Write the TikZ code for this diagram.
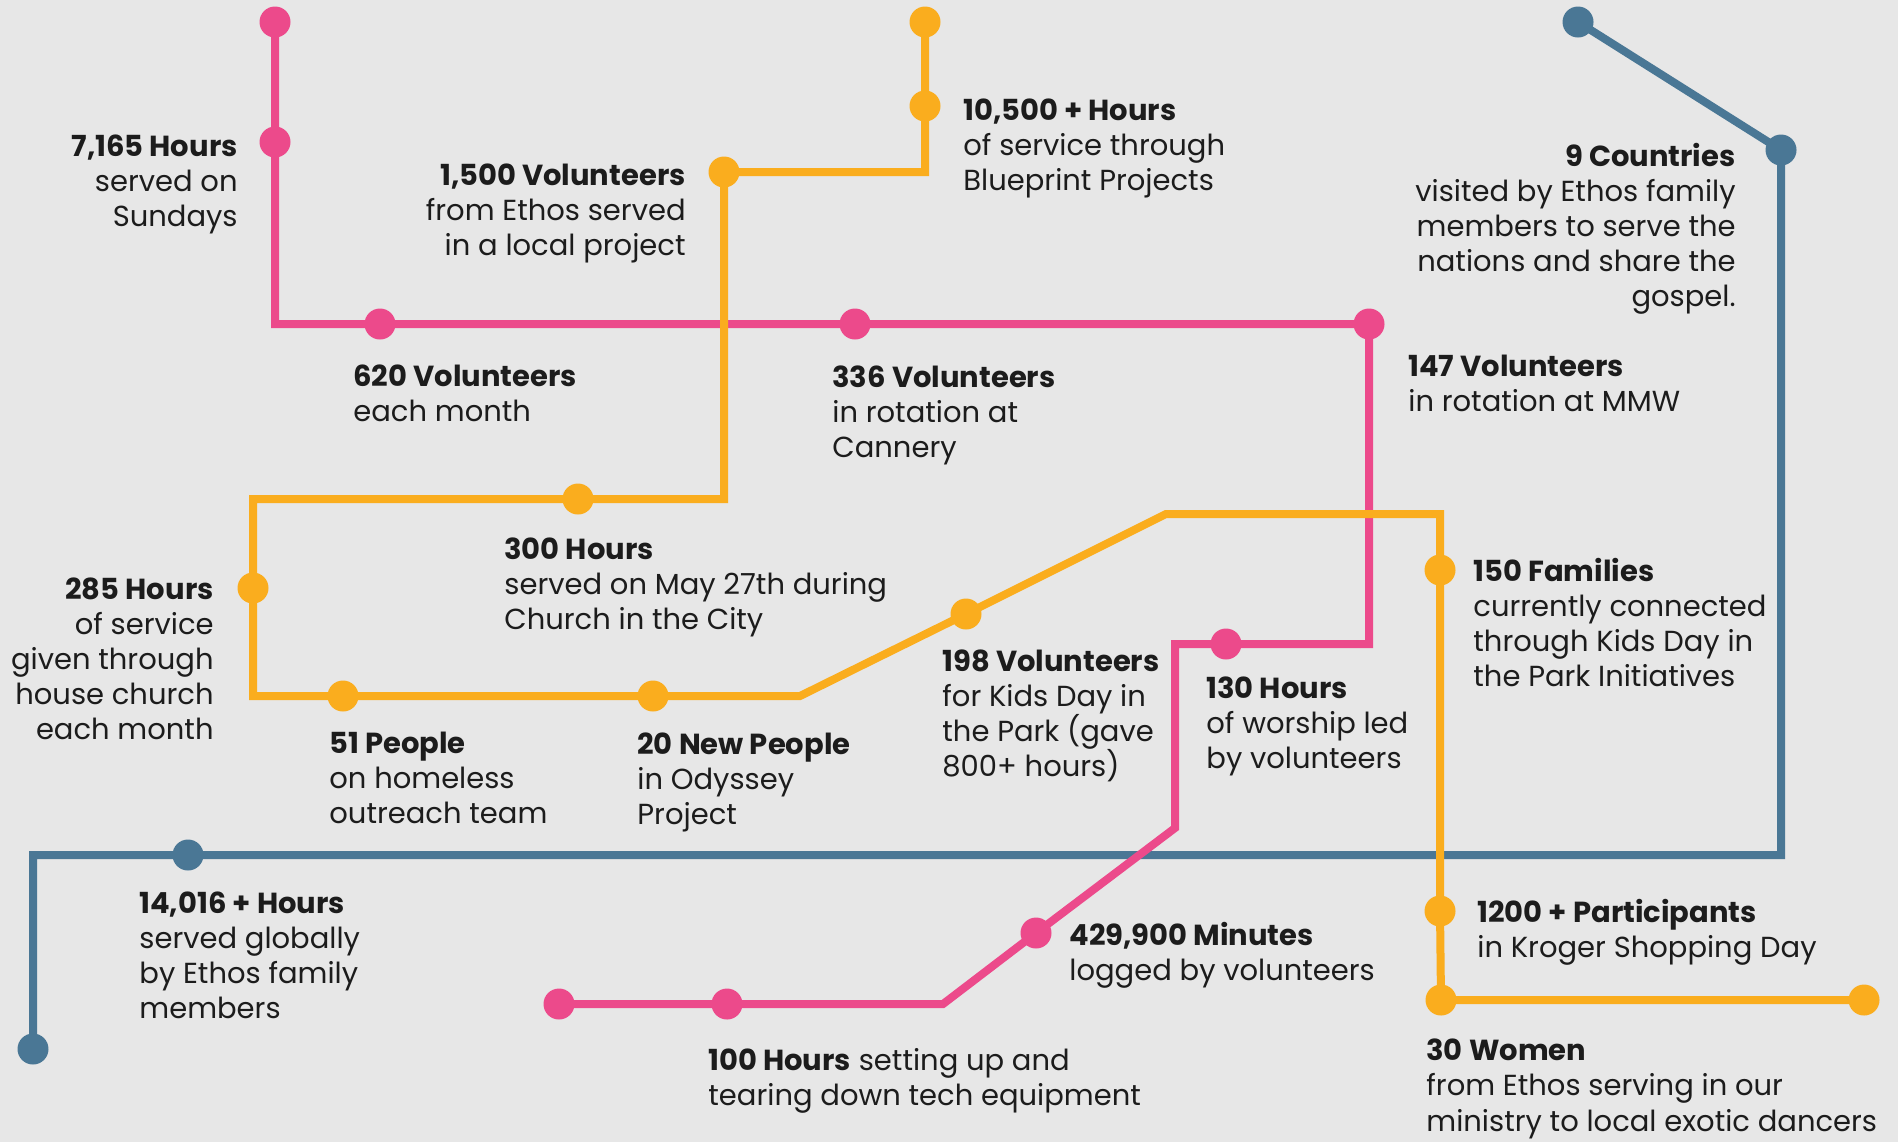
\documentclass[tikz,border=0pt]{standalone}
\usepackage{fontspec}
\setmainfont{Poppins}
\definecolor{pinkc}{HTML}{EC4A8B}
\definecolor{orangec}{HTML}{FAAD1E}
\definecolor{bluec}{HTML}{4A7795}
\definecolor{bgc}{HTML}{E7E7E7}
\definecolor{txt}{HTML}{1C1C1C}
\tikzset{
  route/.style={line width=4pt},
  pinkline/.style={route, draw=pinkc},
  orangeline/.style={route, draw=orangec},
  blueline/.style={route, draw=bluec},
  stopdot/.style={circle, inner sep=0pt, minimum size=15.5pt},
  pstop/.style={stopdot, fill=pinkc},
  ostop/.style={stopdot, fill=orangec},
  bstop/.style={stopdot, fill=bluec},
  lbl/.style={text=txt, inner sep=0pt, font=\fontsize{14.5}{17.6}\selectfont},
  lleft/.style={lbl, align=left, anchor=base west},
  lright/.style={lbl, align=right, anchor=base east},
}
\begin{document}
\begin{tikzpicture}[x=0.5pt,y=-0.5pt]
\fill[bgc] (0,0) rectangle (1898,1142);
\useasboundingbox (0,0) rectangle (1898,1142);

% ---------- coordinates: pink
\coordinate (p1) at (275,22);
\coordinate (p2) at (275,142);
\coordinate (pc1) at (275,324);
\coordinate (p3) at (380,324);
\coordinate (p4) at (855,324);
\coordinate (p5) at (1369,324);
\coordinate (pc2) at (1369,644);
\coordinate (p6) at (1226,644);
\coordinate (pc3) at (1175,644);
\coordinate (pc4) at (1175,828);
\coordinate (p7) at (1036,933);
\coordinate (pc5) at (943,1004);
\coordinate (p8) at (727,1004);
\coordinate (p9) at (559,1004);

% ---------- coordinates: orange
\coordinate (o1) at (925,22);
\coordinate (o2) at (925,106);
\coordinate (oc1) at (925,172);
\coordinate (o3) at (724,172);
\coordinate (oc2) at (724,499);
\coordinate (o4) at (578,499);
\coordinate (oc3) at (253,499);
\coordinate (o5) at (253,588);
\coordinate (oc4) at (253,696);
\coordinate (o6) at (343,696);
\coordinate (o7) at (653,696);
\coordinate (oc5) at (800,696);
\coordinate (o8) at (966,614);
\coordinate (oc6) at (1166,514);
\coordinate (oc7) at (1440,514);
\coordinate (o9) at (1440,570);
\coordinate (o10) at (1440,911);
\coordinate (o11) at (1441,1000);
\coordinate (o12) at (1864,1000);

% ---------- coordinates: blue
\coordinate (b1) at (1578,22);
\coordinate (b2) at (1781,150);
\coordinate (bc1) at (1781,855);
\coordinate (b3) at (188,855);
\coordinate (bc2) at (33,855);
\coordinate (b4) at (33,1049);

% ---------- routes (blue below, pink, orange on top)
\draw[blueline] (b1) -- (b2) -- (bc1) -- (b3) -- (bc2) -- (b4);
\draw[pinkline] (p1) -- (p2) -- (pc1) -- (p3) -- (p4) -- (p5) -- (pc2) -- (p6) -- (pc3) -- (pc4) -- (p7) -- (pc5) -- (p8) -- (p9);
\draw[orangeline] (o1) -- (o2) -- (oc1) -- (o3) -- (oc2) -- (o4) -- (oc3) -- (o5) -- (oc4) -- (o6) -- (o7) -- (oc5) -- (o8) -- (oc6) -- (oc7) -- (o9) -- (o10) -- (o11) -- (o12);

% ---------- stops
\foreach \s in {b1,b2,b3,b4} \node[bstop] at (\s) {};
\foreach \s in {p1,p2,p3,p4,p5,p6,p7,p8,p9} \node[pstop] at (\s) {};
\foreach \s in {o1,o2,o3,o4,o5,o6,o7,o8,o9,o10,o11,o12} \node[ostop] at (\s) {};

% ---------- labels (anchor = baseline of the last line)
\node[lright] (t1) at (238,226.4) {\textbf{7,165 Hours}\\served on\\Sundays};
\node[lright] (t2) at (686,255.4) {\textbf{1,500 Volunteers}\\from Ethos served\\in a local project};
\node[lleft] (t3) at (963,190.4) {\textbf{10,500 + Hours}\\of service through\\Blueprint Projects};
\node[lright] (t4) at (1736,306.8) {\textbf{9 Countries}\\visited by Ethos family\\members to serve the\\nations and share the\\gospel.};
\node[lleft] (t5) at (353,421.2) {\textbf{620 Volunteers}\\each month};
\node[lleft] (t6) at (832,457.4) {\textbf{336 Volunteers}\\in rotation at\\Cannery};
\node[lleft] (t7) at (1408,411.2) {\textbf{147 Volunteers}\\in rotation at MMW};
\node[lleft] (t8) at (504,629.4) {\textbf{300 Hours}\\served on May 27th during\\Church in the City};
\node[lright] (t9) at (214,739.8) {\textbf{285 Hours}\\of service\\given through\\house church\\each month};
\node[lleft] (t10) at (1473,686.6) {\textbf{150 Families}\\currently connected\\through Kids Day in\\the Park Initiatives};
\node[lleft] (t11) at (942,776.6) {\textbf{198 Volunteers}\\for Kids Day in\\the Park (gave\\800+ hours)};
\node[lleft] (t12) at (1206,768.4) {\textbf{130 Hours}\\of worship led\\by volunteers};
\node[lleft] (t13) at (329,823.4) {\textbf{51 People}\\on homeless\\outreach team};
\node[lleft] (t14) at (637,824.4) {\textbf{20 New People}\\in Odyssey\\Project};
\node[lleft] (t15) at (139,1018.6) {\textbf{14,016 + Hours}\\served globally\\by Ethos family\\members};
\node[lleft] (t16) at (1069,980.2) {\textbf{429,900 Minutes}\\logged by volunteers};
\node[lleft] (t17) at (1477,957.2) {\textbf{1200 + Participants}\\in Kroger Shopping Day};
\node[lleft] (t18) at (708,1105.2) {\textbf{100 Hours} setting up and\\tearing down tech equipment};
\node[lleft] (t19) at (1426,1131) {\textbf{30 Women}\\from Ethos serving in our\\ministry to local exotic dancers};
\end{tikzpicture}
\end{document}
